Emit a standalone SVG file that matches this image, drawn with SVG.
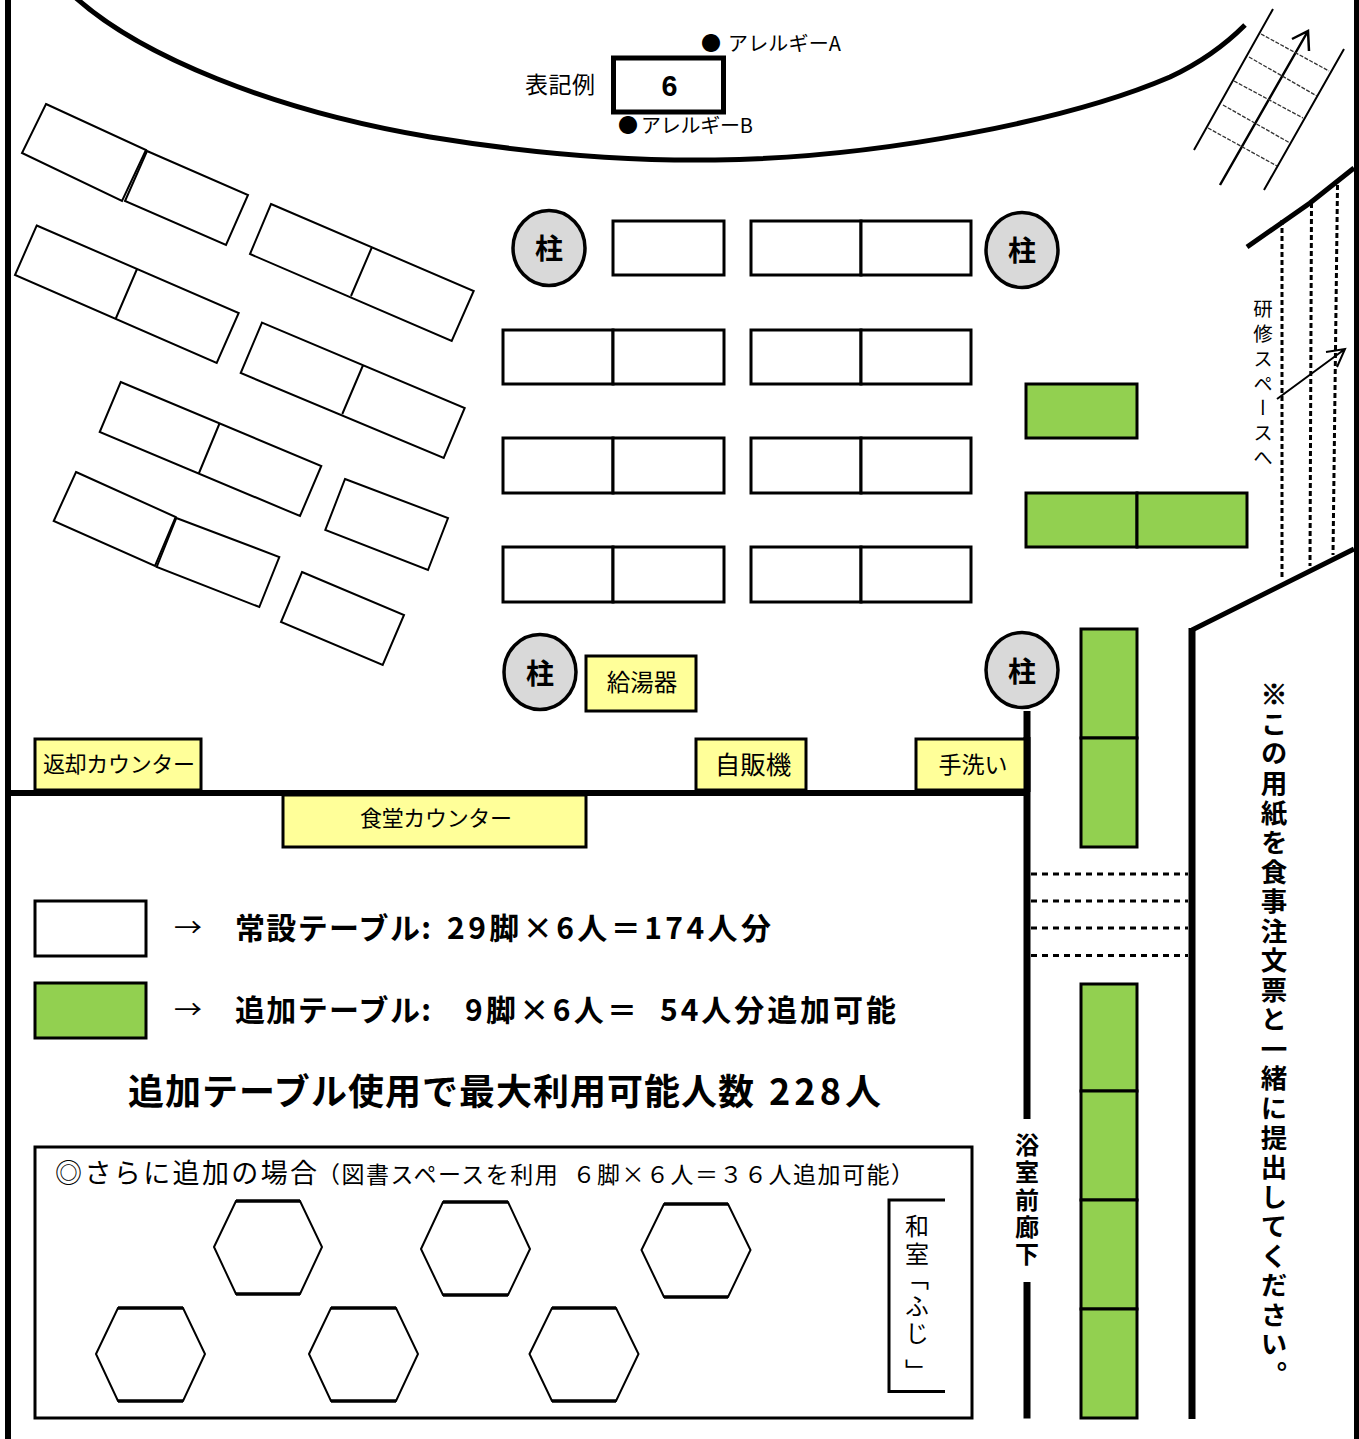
<svg xmlns="http://www.w3.org/2000/svg" width="1359" height="1439" viewBox="0 0 1359 1439">
<style>
text{font-family:"Noto Sans CJK JP","Liberation Sans",sans-serif;fill:#000;white-space:pre}
.b{font-weight:700}
.m{text-anchor:middle}
.v{writing-mode:vertical-rl}
.t{fill:#fff;stroke:#000;stroke-width:3}
.st{fill:#fff;stroke:#000;stroke-width:2}
.g{fill:#92D050;stroke:#000;stroke-width:3}
.y{fill:#FFFF99;stroke:#000;stroke-width:3}
.p{fill:#D9D9D9;stroke:#000;stroke-width:3.5}
.h{fill:#fff;stroke:#000;stroke-width:2}
.w{fill:none;stroke:#000;stroke-width:5}
.d{fill:none;stroke:#000;stroke-width:3;stroke-dasharray:6 5}
.sd{fill:none;stroke:#333;stroke-width:1.3;stroke-dasharray:4 1.5}
.l{fill:none;stroke:#000;stroke-width:2}
.hx{stroke:#000;stroke-width:3.5}
</style>
<rect width="1359" height="1439" fill="#fff"/>
<g id="walls">
<rect x="5" y="0" width="6" height="1439"/>
<rect x="1354" y="0" width="5" height="1439"/>
<path class="w" d="M76,-2C140,55 270,110 430,137C540,155 640,161 715,160C880,158 1070,120 1170,77C1200,63 1225,45 1245,25"/>
<path class="w" d="M1247,247L1310,203L1354,168"/>
<path class="w" d="M1192,630L1354,549"/>
<rect x="1188.500" y="628" width="7" height="791"/>
<rect x="8" y="790" width="1022" height="6"/>
<rect x="1023.500" y="711" width="7" height="408"/>
<rect x="1023.500" y="1282" width="7" height="136.500"/>
</g>
<g id="connectors">
<g id="stairs">
<path class="l" d="M1273,9L1194,150M1344,49L1264,190"/>
<path class="l" style="stroke-width:2.500" d="M1308,31L1220,185M1292,39L1308,31L1309,51"/>
<path class="sd" d="M1261,34L1329,71M1249,57L1317,96M1234,81L1303,118M1223,105L1290,143M1208,128L1277,166"/>
</g>
<g id="corridor-lines">
<path class="d" style="stroke-dasharray:5 3" d="M1282,220V578M1311.500,203L1310,566M1337.500,185L1333,555"/>
<path class="l" d="M1277,399L1345,349M1326,352L1345,349L1337,367"/>
<path class="d" d="M1031,874H1188M1031,901H1188M1031,928H1188M1031,955.500H1188"/>
</g>
</g>
<g id="slanted-tables">
<path id="s1" class="st" d="M46,104L146,150L122,201L22,153Z"/>
<path id="s2" class="st" d="M147,151L248,195L226,245L125,201Z"/>
<path id="s3" class="st" d="M36.700,225.500L238.700,313L216.700,363L15,275ZM137,269L116,318"/>
<path id="s4" class="st" d="M271,204L473.700,291L451.700,341L250,254ZM372,247L351,296"/>
<path id="s5" class="st" d="M262,322.600L464.700,408L443.700,458L240.700,373ZM362.700,366L342.300,414"/>
<path id="s6" class="st" d="M120.700,382L321.300,466L300,516L99.700,432ZM219.700,423L199,473"/>
<path id="s7" class="st" d="M76,472L175.700,517L155,566L53.700,521Z"/>
<path id="s8" class="st" d="M176.300,518L279.300,557L259.300,607L156.700,567Z"/>
<path id="s9" class="st" d="M345,479L448,518L428,570L325.300,530Z"/>
<path id="s10" class="st" d="M302,572L404,615L382.700,665L281,622Z"/>
</g>
<g id="tables">
<rect class="t" x="613" y="221" width="111" height="54"/>
<rect class="t" x="751" y="221" width="110" height="54"/><rect class="t" x="861" y="221" width="110" height="54"/>
<rect class="t" x="503" y="330" width="110" height="54"/><rect class="t" x="613" y="330" width="111" height="54"/>
<rect class="t" x="751" y="330" width="110" height="54"/><rect class="t" x="861" y="330" width="110" height="54"/>
<rect class="t" x="503" y="438" width="110" height="55"/><rect class="t" x="613" y="438" width="111" height="55"/>
<rect class="t" x="751" y="438" width="110" height="55"/><rect class="t" x="861" y="438" width="110" height="55"/>
<rect class="t" x="503" y="547" width="110" height="55"/><rect class="t" x="613" y="547" width="111" height="55"/>
<rect class="t" x="751" y="547" width="110" height="55"/><rect class="t" x="861" y="547" width="110" height="55"/>
</g>
<g id="extra-tables">
<rect class="g" x="1026" y="384" width="111" height="54"/>
<rect class="g" x="1026" y="493" width="111" height="54"/><rect class="g" x="1137" y="493" width="110" height="54"/>
<rect class="g" x="1081" y="629" width="56" height="109"/><rect class="g" x="1081" y="738" width="56" height="109"/>
<rect class="g" x="1081" y="984" width="56" height="107"/><rect class="g" x="1081" y="1091" width="56" height="109"/>
<rect class="g" x="1081" y="1200" width="56" height="109"/><rect class="g" x="1081" y="1309" width="56" height="109"/>
</g>
<g id="pillar-1"><ellipse class="p" cx="549" cy="248" rx="36" ry="37.500"/><text class="b m" x="549" y="259" font-size="28">柱</text></g>
<g id="pillar-2"><ellipse class="p" cx="1022" cy="250" rx="36" ry="37.500"/><text class="b m" x="1022" y="261" font-size="28">柱</text></g>
<g id="pillar-3"><ellipse class="p" cx="540" cy="672" rx="36" ry="37.500"/><text class="b m" x="540" y="684" font-size="28">柱</text></g>
<g id="pillar-4"><ellipse class="p" cx="1022" cy="670" rx="36" ry="37.500"/><text class="b m" x="1022" y="682" font-size="28">柱</text></g>
<g id="water-heater"><rect class="y" x="586" y="656" width="110" height="55"/><text class="m" x="642" y="691" font-size="23.500">給湯器</text></g>
<g id="return-counter"><rect class="y" x="35" y="739" width="166" height="51"/><text x="43" y="772" font-size="22" textLength="152">返却カウンター</text></g>
<g id="canteen-counter"><rect class="y" x="283" y="795" width="303" height="52"/><text x="360" y="826" font-size="22" textLength="152">食堂カウンター</text></g>
<g id="vending"><rect class="y" x="696" y="739" width="110" height="51"/><text class="m" x="753" y="774" font-size="25.500">自販機</text></g>
<g id="handwash"><rect class="y" x="916" y="739" width="110" height="51"/><rect x="1023.500" y="737" width="7" height="55"/><text class="m" x="973" y="773" font-size="23">手洗い</text></g>
<g id="example">
<text x="525" y="93" font-size="23" textLength="70">表記例</text>
<rect x="613.500" y="58" width="110" height="54" fill="#fff" stroke="#000" stroke-width="5"/>
<text class="b m" x="669.500" y="96" font-size="29" textLength="16" lengthAdjust="spacingAndGlyphs" style="font-family:'Liberation Sans',sans-serif">6</text>
<text x="701" y="51" font-size="20">●</text><text x="728" y="51" font-size="20" textLength="113">アレルギーA</text>
<text x="618" y="133" font-size="20">●</text><text x="641" y="133" font-size="20" textLength="112">アレルギーB</text>
</g>
<g id="labels">
<text class="v" x="1263" y="299" font-size="19.500" letter-spacing="5.300">研修スペースへ</text>
<text class="v b" x="1027" y="1133" font-size="24" letter-spacing="3.300">浴室前廊下</text>
<text class="v b" x="1274" y="681" font-size="26.500" letter-spacing="3.050"><tspan stroke="#000" stroke-width="0.900">※</tspan>この用紙を食事注文票と一緒に提出してください。</text>
</g>
<g id="legend">
<rect class="t" x="35" y="901" width="111" height="55"/>
<text x="174" y="937" font-size="26" textLength="28" lengthAdjust="spacingAndGlyphs">→</text>
<text class="b" x="235" y="939" font-size="30" textLength="196">常設テーブル:</text>
<text class="b" x="447" y="939" font-size="30" textLength="324">29脚×6人＝174人分</text>
<rect class="g" x="35" y="983" width="111" height="55"/>
<text x="174" y="1019" font-size="26" textLength="28" lengthAdjust="spacingAndGlyphs">→</text>
<text class="b" x="235" y="1021" font-size="30" textLength="196">追加テーブル:</text>
<text class="b" x="465" y="1021" font-size="30" textLength="172">9脚×6人＝</text>
<text class="b" x="660" y="1021" font-size="30" textLength="236">54人分追加可能</text>
<text class="b" x="128" y="1105" font-size="36" textLength="626">追加テーブル使用で最大利用可能人数</text>
<text class="b" x="769" y="1105" font-size="36" textLength="112">228人</text>
</g>
<g id="extra-area">
<rect x="35" y="1147" width="937" height="271" fill="#fff" stroke="#000" stroke-width="3"/>
<text x="55" y="1183" font-size="27" textLength="262">◎さらに追加の場合</text>
<text x="317" y="1183" font-size="23" textLength="597">（図書スペースを利用  ６脚×６人＝３６人追加可能）</text>
<g id="hexagons">
<polygon class="h" points="214,1247 236,1201 300,1201 322,1247 300,1294 236,1294"/>
<polygon class="h" points="421,1249 443,1202 508,1202 530,1249 508,1295 443,1295"/>
<polygon class="h" points="641.500,1250 664,1204 728,1204 750.500,1250 728,1297 664,1297"/>
<polygon class="h" points="96,1354 118,1308 183,1308 205,1354 183,1401 118,1401"/>
<polygon class="h" points="309,1354 331,1308 396,1308 418,1354 396,1401 331,1401"/>
<polygon class="h" points="529.500,1354 552,1308 616,1308 638.500,1354 616,1401 552,1401"/>
<path class="hx" d="M236,1201H300M236,1294H300M443,1202H508M443,1295H508M664,1204H728M664,1297H728M118,1308H183M118,1401H183M331,1308H396M331,1401H396M552,1308H616M552,1401H616"/>
</g>
<path d="M945,1200H889V1391.500H945" fill="none" stroke="#000" stroke-width="3"/>
<text class="v" x="917" y="1214" font-size="24" letter-spacing="3.500">和室<tspan dy="-3">「</tspan>ふじ<tspan dy="10">」</tspan></text>
</g>
</svg>
